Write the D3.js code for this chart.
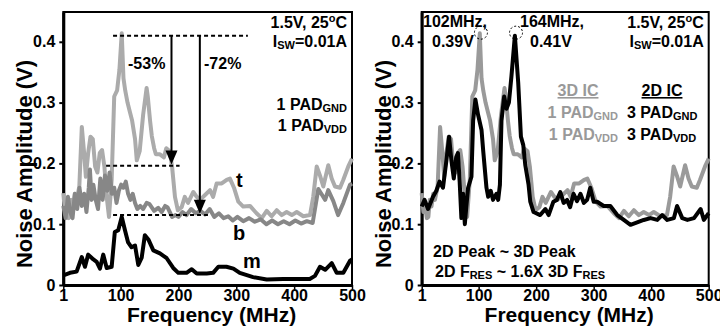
<!DOCTYPE html>
<html>
<head>
<meta charset="utf-8">
<script src="https://cdn.jsdelivr.net/npm/d3@7"></script>
<style>
  body { margin: 0; background: #fff; }
  svg text { font-family: "Liberation Sans", Arial, sans-serif; font-weight: bold; }
</style>
</head>
<body>
<svg id="chart" width="720" height="335"></svg>
<script>
// ---- data (frequency MHz, amplitude V) ----
const freqTicks = [1, 100, 200, 300, 400, 500];
const ampTicks = [0, 0.1, 0.2, 0.3, 0.4];
const ampTickLabels = ['0', '0.1', '0.2', '0.3', '0.4'];

// 3D IC, top tier ("t")
const topTier = [
  [1, .151], [4, .12], [7, .129], [10, .11], [12.6, .112], [15, .14], [18, .129], [21, .15], [24, .14],
  [28.7, .162], [33, .26], [37, .217], [40, .178], [44, .217], [48, .244], [52, .24], [56, .195],
  [60, .185], [64, .217], [68, .222], [72, .195], [76, .145], [80, .112], [84.6, .173], [89, .31],
  [94, .32], [98, .354], [102, .414], [105, .34], [108, .32], [112, .30], [116, .285], [120, .27],
  [125, .24], [128, .205], [133, .22], [139, .28], [145, .324], [147, .31], [151, .27], [154, .245],
  [158, .225], [161, .215], [168, .215], [175, .21], [179, .225], [185, .22], [189, .195], [194, .145],
  [199, .123], [205.6, .128], [211, .145], [216.6, .135], [225.7, .153], [231.6, .145], [237.3, .14],
  [246, .148], [254.6, .156], [260, .145], [266, .167], [274.8, .167], [283.4, .173], [289, .175],
  [296, .16], [303.5, .137], [312, .129], [323.7, .13], [335, .118], [344, .11], [352.6, .122],
  [361, .113], [369.9, .123], [378.5, .115], [387, .12], [396, .115], [404.5, .12], [415.8, .113],
  [427.4, .115], [433, .145], [439, .195], [444.7, .18], [450.4, .162], [459, .197], [464.9, .175],
  [470.6, .162], [479.3, .16], [485, .173], [493.6, .195], [500, .208]
];

// 3D IC, bottom tier ("b")
const bottomTier = [
  [1, .13], [5, .11], [9, .145], [13, .12], [17, .11], [21, .15], [25, .125], [29, .16], [33, .13],
  [37, .15], [41, .12], [45, .16], [47, .19], [50, .14], [53, .165], [57, .14], [61, .125], [65, .175],
  [69, .14], [73, .18], [77, .155], [81, .185], [85, .15], [89, .16], [93, .135], [97, .155], [101, .165],
  [105, .16], [109, .17], [113, .15], [117, .14], [121, .15], [125, .135], [129, .125], [134, .13],
  [139, .125], [145, .135], [150, .133], [158, .122], [165, .127], [171, .12], [177, .13], [181, .128],
  [189, .112], [195, .115], [200, .112], [207, .12], [214, .115], [222, .125], [230, .118], [238, .122],
  [246, .116], [254, .125], [262, .112], [270, .118], [278, .11], [286, .113], [294, .106], [302, .112],
  [312, .105], [322, .11], [332, .104], [342, .108], [352, .1], [362, .106], [372, .1], [382, .105],
  [392, .1], [402, .106], [412, .101], [422, .105], [432, .102], [436, .125], [441.8, .158], [447, .15],
  [453.6, .14], [459, .156], [467.7, .138], [476, .115], [485, .135], [496.6, .165], [500, .167]
];

// 3D IC, middle tier ("m")
const middleTier = [
  [1, .016], [12.6, .02], [24, .022], [33, .046], [38.5, .03], [44, .05], [53, .042], [58.7, .038],
  [64.4, .027], [70, .05], [76, .028], [84.6, .03], [90, .087], [96, .09], [102, .112], [107.6, .09],
  [113, .07], [119, .062], [125, .065], [130.6, .033], [136.5, .045], [142, .082], [148, .075],
  [156.6, .057], [168, .052], [179.7, .044], [191, .028], [199.8, .02], [214, .02], [223, .026],
  [231.6, .019], [248.9, .019], [260, .02], [269, .03], [283, .03], [295, .027], [306, .02],
  [329, .013], [352.6, .009], [381, .01], [427, .01], [436, .015], [444.7, .03], [453.6, .025],
  [465, .036], [473.6, .02], [485, .02], [496.6, .04], [500, .042]
];

// 2D IC
const planar2D = [
  [1, .129], [6, .14], [12, .125], [20.7, .145], [26.5, .155], [32, .17], [38, .16], [44, .205],
  [48.6, .244], [52.6, .205], [56.8, .175], [61, .21], [64, .217], [67, .17], [70, .11], [73, .15],
  [76, .10], [78.7, .13], [81.7, .16], [87.5, .178], [90.4, .27], [94.4, .305], [99, .28], [105, .255],
  [108, .22], [110.8, .19], [113.6, .16], [116.6, .145], [121, .155], [125, .14], [131, .15], [134, .14],
  [137, .165], [139.7, .27], [144.4, .31], [148.5, .29], [152.6, .30], [157, .343], [163, .41],
  [168.8, .333], [173.5, .244], [177.6, .23], [181, .198], [186.8, .165], [189.8, .137], [195.5, .12],
  [207, .115], [216, .125], [221.7, .115], [230, .137], [236, .14], [242, .153], [247.8, .135],
  [253.7, .14], [259, .128], [265, .15], [271, .138], [277, .15], [283, .135], [288.6, .14], [294, .16],
  [300, .137], [306, .137], [317.5, .13], [329, .13], [341, .115], [352.4, .107], [364, .099],
  [375.7, .103], [387, .107], [399, .11], [410.6, .107], [419, .115], [428, .107], [439.5, .11],
  [445, .13], [454, .11], [463, .107], [474.4, .11], [486, .125], [491.6, .107], [500, .118]
];

const svg = d3.select('#chart');

function richText(g, x, y, parts, opts) {
  // parts: [text, 'sub' | 'sup' | undefined]
  const t = g.append('text')
    .attr('x', x)
    .attr('y', y)
    .attr('font-size', opts.size)
    .attr('fill', opts.fill || '#000')
    .attr('text-anchor', opts.anchor || 'start');
  let shift = 0;
  parts.forEach(([s, kind]) => {
    const target = kind === 'sub' ? 2 : kind === 'sup' ? -6 : 0;
    t.append('tspan')
      .attr('dy', target - shift)
      .attr('font-size', kind ? opts.small : opts.size)
      .text(s);
    shift = target;
  });
  return t;
}

function drawPanel(left, right) {
  const g = svg.append('g');
  const x = d3.scaleLinear().domain([1, 500]).range([left, right]);
  const y = d3.scaleLinear().domain([0, 0.449]).range([285, 12]);

  // frame
  g.append('path')
    .attr('d', `M${left},285 L${left},12 L${right},12 L${right},285`)
    .attr('fill', 'none').attr('stroke', '#000').attr('stroke-width', 2);

  const xAxis = g.append('g')
    .attr('transform', 'translate(0,285)')
    .call(d3.axisBottom(x).tickValues(freqTicks).tickSize(4).tickSizeOuter(0).tickPadding(0));
  xAxis.select('.domain').attr('stroke-width', 3);
  xAxis.selectAll('.tick line').attr('stroke-width', 1.5);
  xAxis.selectAll('.tick text').attr('font-size', 16).attr('fill', '#000').attr('dy', '0.78em');

  const yAxis = g.append('g')
    .attr('transform', `translate(${left},0)`)
    .call(d3.axisLeft(y).tickValues(ampTicks).tickFormat((d, i) => ampTickLabels[i])
      .tickSize(4).tickSizeOuter(0).tickPadding(4));
  yAxis.select('.domain').attr('stroke-width', 3);
  yAxis.selectAll('.tick line').attr('stroke-width', 2);
  yAxis.selectAll('.tick text').attr('font-size', 16).attr('fill', '#000');

  g.append('text')
    .attr('x', (left + right) / 2 + 4)
    .attr('y', 322)
    .attr('text-anchor', 'middle')
    .attr('font-size', 21)
    .text('Frequency (MHz)');

  g.append('text')
    .attr('transform', `translate(${left - 31},164) rotate(-90)`)
    .attr('text-anchor', 'middle')
    .attr('font-size', 22)
    .text('Noise Amplitude (V)');

  const line = d3.line().x(d => x(d[0])).y(d => y(d[1]));
  const plotLine = (data, color) => g.append('path')
    .datum(data)
    .attr('d', line)
    .attr('fill', 'none')
    .attr('stroke', color)
    .attr('stroke-width', 4)
    .attr('stroke-linejoin', 'round');

  // condition text, top right
  richText(g, right - 5, 28, [['1.5V, 25'], ['o', 'sup'], ['C']], { size: 16, small: 11, anchor: 'end' });
  richText(g, right - 5, 47, [['I'], ['SW', 'sub'], ['=0.01A']], { size: 16, small: 11, anchor: 'end' });

  return { g, x, y, plotLine };
}

// ---- left panel ----
const L = drawPanel(63.3, 352);
L.plotLine(topTier, '#ababab');
L.plotLine(bottomTier, '#878787');
L.plotLine(middleTier, '#000');

const dashed = [
  { f0: 87, f1: 320, v: 0.41 },
  { f0: 75, f1: 202, v: 0.196 },
  { f0: 87, f1: 251, v: 0.115 }
];
dashed.forEach(d => {
  L.g.append('line')
    .attr('x1', L.x(d.f0)).attr('x2', L.x(d.f1))
    .attr('y1', L.y(d.v)).attr('y2', L.y(d.v))
    .attr('stroke', '#000').attr('stroke-width', 2).attr('stroke-dasharray', '4,3');
});

const arrows = [
  { f: 188, v0: 0.41, v1: 0.198 },
  { f: 237, v0: 0.41, v1: 0.117 }
];
arrows.forEach(a => {
  const xt = L.x(a.f), yt = L.y(a.v1);
  L.g.append('line')
    .attr('x1', xt).attr('x2', xt)
    .attr('y1', L.y(a.v0)).attr('y2', yt - 10)
    .attr('stroke', '#000').attr('stroke-width', 2);
  L.g.append('path')
    .attr('d', `M${xt - 6},${yt - 14} L${xt + 6},${yt - 14} L${xt},${yt} Z`)
    .attr('fill', '#000');
});

L.g.append('text').attr('x', 128).attr('y', 69).attr('font-size', 16).text('-53%');
L.g.append('text').attr('x', 204).attr('y', 69).attr('font-size', 16).text('-72%');

richText(L.g, 347, 110, [['1 PAD'], ['GND', 'sub']], { size: 16, small: 11, anchor: 'end' });
richText(L.g, 347, 131, [['1 PAD'], ['VDD', 'sub']], { size: 16, small: 11, anchor: 'end' });

L.g.append('text').attr('x', 236).attr('y', 187).attr('font-size', 20).text('t');
L.g.append('text').attr('x', 233).attr('y', 240).attr('font-size', 20).text('b');
L.g.append('text').attr('x', 243).attr('y', 268).attr('font-size', 20).text('m');

// ---- right panel ----
const R = drawPanel(421.7, 708.7);
R.plotLine(topTier, '#9a9a9a');
R.plotLine(planar2D, '#000');

const peaks = [[104, 0.415], [165, 0.415]];
peaks.forEach(p => {
  R.g.append('circle')
    .attr('cx', R.x(p[0])).attr('cy', R.y(p[1])).attr('r', 6.5)
    .attr('fill', 'none').attr('stroke', '#000').attr('stroke-width', 1)
    .attr('stroke-dasharray', '2,2');
});

R.g.append('text').attr('x', 423).attr('y', 27).attr('font-size', 16).text('102MHz,');
R.g.append('text').attr('x', 432).attr('y', 47).attr('font-size', 16).text('0.39V');
R.g.append('text').attr('x', 520).attr('y', 27).attr('font-size', 16).text('164MHz,');
R.g.append('text').attr('x', 530).attr('y', 47).attr('font-size', 16).text('0.41V');

R.g.append('text').attr('x', 578).attr('y', 96).attr('text-anchor', 'middle')
  .attr('font-size', 16).attr('fill', '#999').attr('text-decoration', 'underline').text('3D IC');
R.g.append('text').attr('x', 662).attr('y', 96).attr('text-anchor', 'middle')
  .attr('font-size', 16).attr('text-decoration', 'underline').text('2D IC');
richText(R.g, 618, 118, [['1 PAD'], ['GND', 'sub']], { size: 16, small: 11, anchor: 'end', fill: '#999' });
richText(R.g, 618, 140, [['1 PAD'], ['VDD', 'sub']], { size: 16, small: 11, anchor: 'end', fill: '#999' });
richText(R.g, 627, 118, [['3 PAD'], ['GND', 'sub']], { size: 16, small: 11 });
richText(R.g, 627, 140, [['3 PAD'], ['VDD', 'sub']], { size: 16, small: 11 });

richText(R.g, 433, 257, [['2D Peak ~ 3D Peak']], { size: 16, small: 11 });
richText(R.g, 435, 277, [['2D F'], ['RES', 'sub'], [' ~ 1.6X 3D F'], ['RES', 'sub']], { size: 16, small: 11 });
</script>
</body>
</html>
